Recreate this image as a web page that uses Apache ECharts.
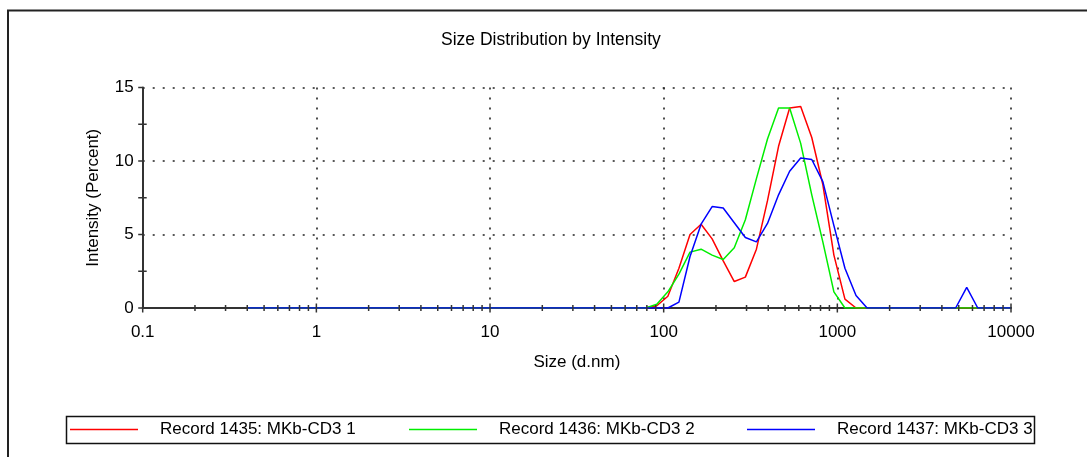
<!DOCTYPE html>
<html>
<head>
<meta charset="utf-8">
<script src="https://cdn.jsdelivr.net/npm/echarts@6/dist/echarts.min.js"></script>
<style>
  html, body { margin: 0; padding: 0; background: #fff; }
  #chart { width: 1087px; height: 457px; }
</style>
</head>
<body>
<div id="chart"></div>
<script>
// Size bins (d.nm)
const sizes = [0.4,0.4632,0.5365,0.6213,0.7195,0.8332,0.9649,1.117,1.294,1.499,
  1.736,2.01,2.328,2.696,3.122,3.615,4.187,4.849,5.615,6.503,
  7.531,8.721,10.1,11.7,13.54,15.69,18.17,21.04,24.36,28.21,
  32.67,37.84,43.82,50.75,58.77,68.06,78.82,91.28,105.7,122.4,
  141.8,164.2,190.1,220.2,255,295.3,342,396.1,458.7,531.2,
  615.1,712.4,825,955.4,1106,1281,1484,1718,1990,2305,
  2669,3091,3580,4145,4801,5559,6437,7455,8634,10000];

// Intensity (Percent)
const record1435 = [0,0,0,0,0,0,0,0,0,0,
  0,0,0,0,0,0,0,0,0,0,
  0,0,0,0,0,0,0,0,0,0,
  0,0,0,0,0,0,0,0.15,0.8,2.7,
  5.0,5.7,4.7,3.2,1.8,2.1,4.0,7.3,11.0,13.6,
  13.7,11.6,8.4,3.6,0.6,0,0,0,0,0,
  0,0,0,0,0,0,0,0,0,0];
const record1436 = [0,0,0,0,0,0,0,0,0,0,
  0,0,0,0,0,0,0,0,0,0,
  0,0,0,0,0,0,0,0,0,0,
  0,0,0,0,0,0,0,0.25,1.1,2.3,
  3.8,4.0,3.6,3.3,4.1,6.0,8.8,11.5,13.6,13.6,
  11.2,7.7,4.5,1.1,0,0,0,0,0,0,
  0,0,0,0,0,0,0,0,0,0];
const record1437 = [0,0,0,0,0,0,0,0,0,0,
  0,0,0,0,0,0,0,0,0,0,
  0,0,0,0,0,0,0,0,0,0,
  0,0,0,0,0,0,0,0,0,0.4,
  3.5,5.7,6.9,6.8,5.8,4.8,4.5,5.75,7.7,9.3,
  10.2,10.1,8.6,5.6,2.7,0.85,0,0,0,0,
  0,0,0,0,0,1.4,0,0,0,0];

const seriesNames = ['Record 1435: MKb-CD3 1', 'Record 1436: MKb-CD3 2', 'Record 1437: MKb-CD3 3'];
const seriesColors = ['#ff0000', '#00ee00', '#0000ff'];

// Axis ticks
const xMajorTicks = [0.1, 1, 10, 100, 1000, 10000];
const xMinorTicks = [0.2,0.3,0.4,0.5,0.6,0.7,0.8,0.9,
  2,3,4,5,6,7,8,9,
  20,30,40,50,60,70,80,90,
  200,300,400,500,600,700,800,900,
  2000,3000,4000,5000,6000,7000,8000,9000];
const yMajorTicks = [0, 5, 10, 15];
const yMinorTicks = [2.5, 7.5, 12.5];

const FONT = '"Liberation Sans", Arial, sans-serif';
const AXIS_COLOR = '#333';
const FS = 17;

function pairs(vals) { return sizes.map((s, i) => [s, vals[i]]); }

const chart = echarts.init(document.getElementById('chart'), null, { renderer: 'canvas' });

const dotted = { type: [2, 8], width: 1.6, color: '#222' };

function legendFor(i, left) {
  return {
    data: [{ name: seriesNames[i], icon: 'rect' }],
    left: left, top: 421,
    itemWidth: 68, itemHeight: 1.6, itemGap: 0, padding: 0,
    selectedMode: false,
    textStyle: { fontFamily: FONT, fontSize: FS, color: '#000', padding: [0, 0, 0, 17] }
  };
}

const option = {
  animation: false,
  backgroundColor: '#fff',
  title: {
    text: 'Size Distribution by Intensity',
    left: 441, top: 31,
    padding: 0,
    textStyle: { fontFamily: FONT, fontSize: 17.5, fontWeight: 'normal', color: '#000' }
  },
  graphic: [
    { type: 'rect', shape: { x: 8, y: 10.5, width: 1200, height: 600 },
      style: { fill: 'none', stroke: '#222', lineWidth: 2 }, silent: true, z: -1 },
    { type: 'rect', shape: { x: 66.5, y: 416.5, width: 968, height: 27 },
      style: { fill: 'none', stroke: '#111', lineWidth: 1.5 }, silent: true }
  ],
  legend: [legendFor(0, 70), legendFor(1, 409), legendFor(2, 747)],
  grid: { left: 142.7, right: 76, top: 87.5, bottom: 149, containLabel: false },
  xAxis: {
    type: 'log', logBase: 10, min: 0.1, max: 10000,
    name: 'Size (d.nm)', nameLocation: 'middle', nameGap: 46,
    nameTextStyle: { fontFamily: FONT, fontSize: FS, color: '#000' },
    axisLine: { show: true, onZero: false, lineStyle: { color: AXIS_COLOR, width: 2 } },
    axisTick: { show: false },
    minorTick: { show: false },
    axisLabel: {
      fontFamily: FONT, fontSize: FS, color: '#000', margin: 16,
      showMinLabel: true, showMaxLabel: true,
      formatter: v => String(+Number(v).toPrecision(6))
    },
    splitLine: { show: true, lineStyle: dotted }
  },
  yAxis: {
    type: 'value', min: 0, max: 15, interval: 5,
    name: 'Intensity (Percent)', nameLocation: 'middle', nameGap: 41,
    nameTextStyle: { fontFamily: FONT, fontSize: FS, color: '#000' },
    axisLine: { show: true, lineStyle: { color: AXIS_COLOR, width: 2 } },
    axisTick: { show: false },
    axisLabel: { fontFamily: FONT, fontSize: FS, color: '#000', margin: 9 },
    splitLine: { show: true, lineStyle: dotted }
  },
  series: [
    ...[record1435, record1436, record1437].map((vals, i) => ({
      name: seriesNames[i], type: 'line', data: pairs(vals),
      symbol: 'none', smooth: false, z: 3 + i,
      color: seriesColors[i],
      lineStyle: { color: seriesColors[i], width: 1.5 }
    })),
    {
      name: 'xticks', type: 'custom', silent: true, clip: false, z: 10,
      data: xMajorTicks.map(v => [v, 0, 1]).concat(xMinorTicks.map(v => [v, 0, 0])),
      renderItem: (params, api) => {
        const p = api.coord([api.value(0), api.value(1)]);
        const len = api.value(2) ? 4.5 : 3;
        return { type: 'line', shape: { x1: p[0], y1: p[1] - len, x2: p[0], y2: p[1] + len },
                 style: { stroke: AXIS_COLOR, lineWidth: 1.5 } };
      }
    },
    {
      name: 'yticks', type: 'custom', silent: true, clip: false, z: 10,
      data: yMajorTicks.map(v => [0.1, v, 1]).concat(yMinorTicks.map(v => [0.1, v, 0])),
      renderItem: (params, api) => {
        const p = api.coord([api.value(0), api.value(1)]);
        const major = api.value(2);
        return { type: 'line', shape: { x1: p[0] - 4.5, y1: p[1], x2: p[0] + (major ? 0 : 4), y2: p[1] },
                 style: { stroke: AXIS_COLOR, lineWidth: 1.5 } };
      }
    }
  ]
};

chart.setOption(option);
</script>
</body>
</html>
